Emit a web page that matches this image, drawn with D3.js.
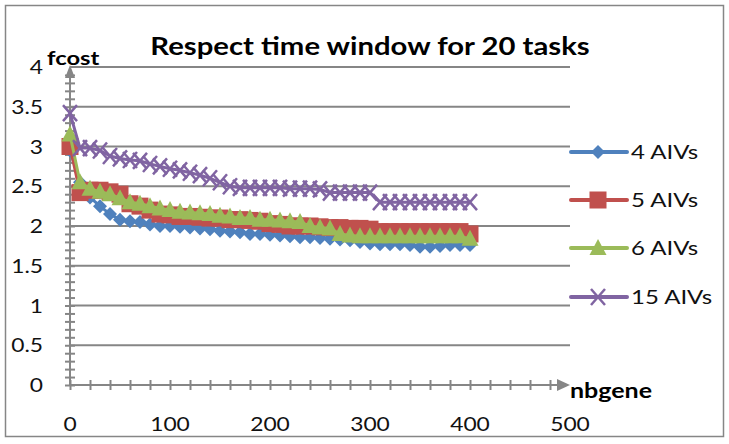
<!DOCTYPE html>
<html><head><meta charset="utf-8">
<script src="https://cdn.jsdelivr.net/npm/d3@7"></script>
<style>
html,body{margin:0;padding:0;background:#fff;}
svg{display:block;font-family:Lato,"Open Sans",sans-serif;}
</style></head>
<body><svg id="c" width="729" height="444"></svg>
<script>
const title = "Respect time window for 20 tasks";
const yLabel = "fcost";
const xLabel = "nbgene";
const seriesNames = ["4 AIVs","5 AIVs","6 AIVs","15 AIVs"];
const seriesColors = ["#4F81BD","#C0504D","#9BBB59","#8064A2"];
const seriesMarkers = ["diamond","square","triangle","cross"];
const xTickLabels = [0,100,200,300,400,500];
const yTickLabels = [0,0.5,1,1.5,2,2.5,3,3.5,4];
const nbgene = [0,10,20,30,40,50,60,70,80,90,100,110,120,130,140,150,160,170,180,190,200,
  210,220,230,240,250,260,270,280,290,300,310,320,330,340,350,360,370,380,390,400];
const aivs4 = [2.95,2.55,2.36,2.25,2.15,2.08,2.06,2.05,2.02,2.0,2.0,1.99,1.98,1.97,1.96,1.94,1.93,1.92,1.9,1.9,1.89,
  1.88,1.87,1.86,1.86,1.85,1.84,1.83,1.82,1.8,1.78,1.77,1.77,1.77,1.76,1.74,1.74,1.75,1.76,1.76,1.76];
const aivs5 = [3.0,2.42,2.45,2.45,2.43,2.4,2.28,2.25,2.2,2.15,2.14,2.12,2.12,2.11,2.1,2.1,2.08,2.08,2.07,2.06,2.03,
  2.02,2.0,2.0,2.0,1.99,1.98,1.98,1.97,1.97,1.96,1.93,1.93,1.93,1.93,1.93,1.93,1.93,1.93,1.93,1.9];
const aivs6 = [3.15,2.55,2.47,2.43,2.4,2.35,2.3,2.28,2.25,2.22,2.2,2.18,2.17,2.16,2.15,2.13,2.12,2.1,2.1,2.08,2.08,
  2.07,2.06,2.05,2.0,1.98,1.97,1.9,1.88,1.87,1.87,1.87,1.87,1.87,1.87,1.87,1.87,1.87,1.87,1.87,1.84];
const aivs15 = [3.42,2.98,2.98,2.95,2.88,2.85,2.83,2.82,2.78,2.75,2.72,2.7,2.67,2.64,2.6,2.55,2.5,2.48,2.48,2.48,2.48,
  2.48,2.47,2.47,2.47,2.46,2.42,2.42,2.42,2.42,2.42,2.3,2.3,2.3,2.3,2.3,2.3,2.3,2.3,2.3,2.3];
const seriesValues = [aivs4,aivs5,aivs6,aivs15];

const svg = d3.select("#c");
const x = d3.scaleLinear().domain([0,500]).range([70,570]);
const y = d3.scaleLinear().domain([0,4]).range([385,67]);
const gray = "#868686";

function stext(parent, tx, ty, str, opts){
  return parent.append("text")
    .attr("transform",`translate(${tx},${ty}) scale(${opts.sx||1.2},1)`)
    .attr("text-anchor",opts.anchor||"start")
    .attr("font-size",opts.size).attr("font-weight",opts.weight||"normal")
    .attr("fill",opts.fill||"#111").text(str);
}

// border
svg.append("rect").attr("x",5.5).attr("y",5.5).attr("width",718).attr("height",431)
  .attr("fill","#fff").attr("stroke",gray).attr("stroke-width",1.5);

// gridlines
svg.append("g").selectAll("line").data(yTickLabels.filter(d=>d>0)).join("line")
  .attr("x1",x(0)).attr("x2",x(500)).attr("y1",d=>y(d)).attr("y2",d=>y(d))
  .attr("stroke",gray).attr("stroke-width",2);

// y axis with minor ticks
const yAxis = d3.axisLeft(y).tickValues(d3.range(0,40).map(i=>i/10)).tickSize(0).tickFormat("");
const gy = svg.append("g").attr("transform",`translate(${x(0)},0)`).call(yAxis);
gy.select(".domain").remove();
gy.selectAll(".tick line").attr("x1",-5).attr("x2",5).attr("stroke",gray).attr("stroke-width",2);
svg.append("line").attr("x1",x(0)).attr("x2",x(0)).attr("y1",y(0)).attr("y2",y(4)+8)
  .attr("stroke",gray).attr("stroke-width",2);
svg.append("path").attr("d",`M${x(0)-5},${y(4)+11}L${x(0)},${y(4)-2}L${x(0)+5},${y(4)+11}Z`).attr("fill",gray);

// x axis with minor ticks
const xAxis = d3.axisBottom(x).tickValues(d3.range(0,25).map(i=>i*20)).tickSize(0).tickFormat("");
const gx = svg.append("g").attr("transform",`translate(0,${y(0)})`).call(xAxis);
gx.select(".domain").remove();
gx.selectAll(".tick line").attr("y1",-5).attr("y2",5).attr("stroke",gray).attr("stroke-width",2);
svg.append("line").attr("x1",x(0)).attr("x2",x(500)-8).attr("y1",y(0)).attr("y2",y(0))
  .attr("stroke",gray).attr("stroke-width",2);
svg.append("path").attr("d",`M${x(500)-13},${y(0)-6}L${x(500)},${y(0)}L${x(500)-13},${y(0)+6}Z`).attr("fill",gray);

// tick labels
const gyl = svg.append("g");
yTickLabels.forEach(d=>stext(gyl, 43, y(d)+7, d, {size:19, anchor:"end"}));
const gxl = svg.append("g");
xTickLabels.forEach(d=>stext(gxl, x(d), 431, d, {size:19, anchor:"middle"}));

// titles
stext(svg, 370, 55, title, {size:24, weight:"bold", anchor:"middle", sx:1.22, fill:"#000"});
stext(svg, 47, 65, yLabel, {size:19, weight:"bold", sx:1.25, fill:"#000"});
stext(svg, 570, 398, xLabel, {size:20, weight:"bold", sx:1.25, fill:"#000"});

// markers
function drawMarker(g, type, color, cx, cy){
  if(type==="diamond"){
    g.append("path").attr("d",`M${cx},${cy-7}L${cx+7},${cy}L${cx},${cy+7}L${cx-7},${cy}Z`).attr("fill",color);
  } else if(type==="square"){
    g.append("rect").attr("x",cx-8.5).attr("y",cy-8.5).attr("width",17).attr("height",17).attr("fill",color);
  } else if(type==="triangle"){
    g.append("path").attr("d",`M${cx},${cy-9}L${cx+8.5},${cy+7}L${cx-8.5},${cy+7}Z`).attr("fill",color);
  } else {
    g.append("path").attr("d",`M${cx-7},${cy-8}L${cx+7},${cy+8}M${cx+7},${cy-8}L${cx-7},${cy+8}`)
      .attr("stroke",color).attr("stroke-width",2.5).attr("fill","none");
  }
}

const line = d3.line().x(d=>x(d[0])).y(d=>y(d[1]));
seriesValues.forEach((vals,i)=>{
  const pts = nbgene.map((n,j)=>[n,vals[j]]);
  const g = svg.append("g");
  g.append("path").datum(pts).attr("d",line).attr("fill","none")
    .attr("stroke",seriesColors[i]).attr("stroke-width",3).attr("stroke-linejoin","round");
  pts.forEach(p=>drawMarker(g, seriesMarkers[i], seriesColors[i], x(p[0]), y(p[1])));
});

// legend
const legY = [152,200,248,297];
seriesNames.forEach((name,i)=>{
  const g = svg.append("g");
  g.append("line").attr("x1",571).attr("x2",627).attr("y1",legY[i]).attr("y2",legY[i])
    .attr("stroke",seriesColors[i]).attr("stroke-width",4).attr("stroke-linecap","round");
  drawMarker(g, seriesMarkers[i], seriesColors[i], 598, legY[i]);
  stext(g, 631, legY[i]+7, name, {size:20, sx:1.2});
});
</script></body></html>
